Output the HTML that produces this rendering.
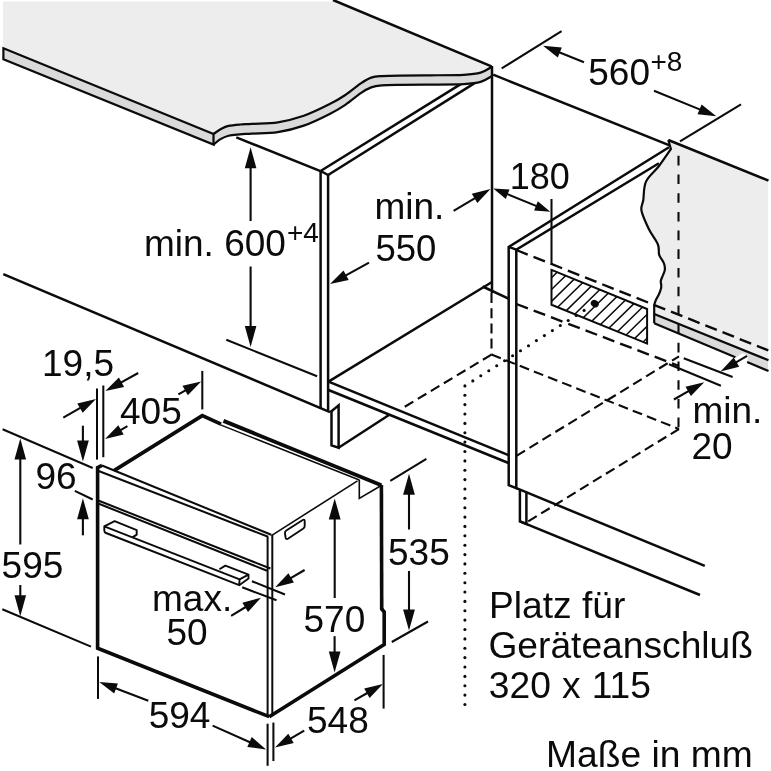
<!DOCTYPE html>
<html lang="de"><head><meta charset="utf-8"><title>Einbaumaße</title>
<style>
html,body{margin:0;padding:0;background:#fff;overflow:hidden;}
svg{display:block;filter:grayscale(1) blur(0.55px);}
text{font-family:"Liberation Sans",sans-serif;fill:#0b0b0b;}
</style></head><body>
<svg width="771" height="771" viewBox="0 0 771 771">
<rect width="771" height="771" fill="#fff"/>
<line x1="320.6" y1="171" x2="470" y2="78.4" stroke="#0b0b0b" stroke-width="2.5"/>
<line x1="328.1" y1="175" x2="485" y2="76.6" stroke="#0b0b0b" stroke-width="2.5"/>
<line x1="236.3" y1="137.3" x2="320.5" y2="171.2" stroke="#0b0b0b" stroke-width="2.5"/>
<path d="M3,1.5 L334,1.5 L491.5,66.3 C489.7,67.9 485.2,71.3 480.6,72.6 C476,73.9 472.1,74.3 463.7,74.8 C455.3,75.2 440.6,75.2 430,75.3 C419.4,75.4 408.1,75.5 400,75.6 C391.9,75.7 386.4,75.8 381.6,76.1 C376.8,76.4 374.7,76.4 371.2,77.6 C367.7,78.8 365.1,80.4 360.8,83.3 C356.5,86.2 350.5,91.5 345.3,95 C340.1,98.5 336.6,100.6 329.7,104.1 C322.8,107.6 312.4,112.8 303.8,115.8 C295.2,118.8 286.4,121 277.8,122.3 C269.2,123.6 258.2,123.4 251.9,123.8 C245.6,124.2 243.9,124.2 240,124.5 C236.1,124.8 231.8,125.1 228.5,125.9 C225.2,126.7 223,128 220.5,129.3 C218,130.7 214.7,133.2 213.5,134 L3,48.3 Z" fill="#ededed"/>
<path d="M3.3,48.3 L213.5,134 L213.5,144.6 L3.3,59.2 Z" fill="#dadada"/>
<path d="M213.5,134 C214.7,133.2 218,130.7 220.5,129.3 C223,128 225.2,126.7 228.5,125.9 C231.8,125.1 236.1,124.8 240,124.5 C243.9,124.2 245.6,124.2 251.9,123.8 C258.2,123.4 269.2,123.6 277.8,122.3 C286.4,121 295.2,118.8 303.8,115.8 C312.4,112.8 322.8,107.6 329.7,104.1 C336.6,100.6 340.1,98.5 345.3,95 C350.5,91.5 356.5,86.2 360.8,83.3 C365.1,80.4 367.7,78.8 371.2,77.6 C374.7,76.4 376.8,76.4 381.6,76.1 C386.4,75.8 391.9,75.7 400,75.6 C408.1,75.5 419.4,75.4 430,75.3 C440.6,75.2 455.3,75.2 463.7,74.8 C472.1,74.3 476,73.9 480.6,72.6 C485.2,71.3 489.7,67.9 491.5,67 L491.5,76.8 C489.7,77.2 485.2,80.6 480.6,81.9 C476,83.2 472.1,83.6 463.7,84.1 C455.3,84.5 440.6,84.5 430,84.6 C419.4,84.7 408.1,84.8 400,84.9 C391.9,85 386.4,85 381.6,85.4 C376.8,85.8 374.7,86.1 371.2,87.4 C367.7,88.7 365.1,90.2 360.8,93.1 C356.5,96 350.5,101.3 345.3,104.8 C340.1,108.3 336.6,110.4 329.7,113.9 C322.8,117.4 312.4,122.6 303.8,125.6 C295.2,128.6 286.4,130.8 277.8,132.1 C269.2,133.4 258.2,133.2 251.9,133.6 C245.6,134 243.9,134 240,134.3 C236.1,134.7 231.8,134.9 228.5,135.7 C225.2,136.5 223,137.6 220.5,139.1 C218,140.6 214.7,143.7 213.5,144.6 Z" fill="#dadada"/>
<path d="M3.4,48.3 L213.5,134 L213.5,144.6 L3.4,59.2 Z" fill="none" stroke="#0b0b0b" stroke-width="2.2" stroke-linejoin="miter"/>
<path d="M213.5,134 C214.7,133.2 218,130.7 220.5,129.3 C223,128 225.2,126.7 228.5,125.9 C231.8,125.1 236.1,124.8 240,124.5 C243.9,124.2 245.6,124.2 251.9,123.8 C258.2,123.4 269.2,123.6 277.8,122.3 C286.4,121 295.2,118.8 303.8,115.8 C312.4,112.8 322.8,107.6 329.7,104.1 C336.6,100.6 340.1,98.5 345.3,95 C350.5,91.5 356.5,86.2 360.8,83.3 C365.1,80.4 367.7,78.8 371.2,77.6 C374.7,76.4 376.8,76.4 381.6,76.1 C386.4,75.8 391.9,75.7 400,75.6 C408.1,75.5 419.4,75.4 430,75.3 C440.6,75.2 455.3,75.2 463.7,74.8 C472.1,74.3 476,73.9 480.6,72.6 C485.2,71.3 489.7,67.9 491.5,67" fill="none" stroke="#0b0b0b" stroke-width="2.2" stroke-linejoin="miter"/>
<path d="M213.5,144.6 C214.7,143.7 218,140.6 220.5,139.1 C223,137.6 225.2,136.5 228.5,135.7 C231.8,134.9 236.1,134.7 240,134.3 C243.9,134 245.6,134 251.9,133.6 C258.2,133.2 269.2,133.4 277.8,132.1 C286.4,130.8 295.2,128.6 303.8,125.6 C312.4,122.6 322.8,117.4 329.7,113.9 C336.6,110.4 340.1,108.3 345.3,104.8 C350.5,101.3 356.5,96 360.8,93.1 C365.1,90.2 367.7,88.7 371.2,87.4 C374.7,86.1 376.8,85.8 381.6,85.4 C386.4,85 391.9,85 400,84.9 C408.1,84.8 419.4,84.7 430,84.6 C440.6,84.5 455.3,84.5 463.7,84.1 C472.1,83.6 476,83.2 480.6,81.9 C485.2,80.6 489.7,77.2 491.5,76.3" fill="none" stroke="#0b0b0b" stroke-width="2.2" stroke-linejoin="miter"/>
<line x1="333" y1="0" x2="491.5" y2="66.3" stroke="#0b0b0b" stroke-width="2.5"/>
<line x1="492" y1="66" x2="492" y2="293" stroke="#0b0b0b" stroke-width="2.5"/>
<line x1="493.2" y1="74.7" x2="669.6" y2="145.3" stroke="#0b0b0b" stroke-width="2.5"/>
<line x1="3.3" y1="274.2" x2="330" y2="412.1" stroke="#0b0b0b" stroke-width="2.5"/>
<line x1="320.6" y1="171" x2="320.6" y2="408.8" stroke="#0b0b0b" stroke-width="2.5"/>
<line x1="328.1" y1="175" x2="328.1" y2="410.6" stroke="#0b0b0b" stroke-width="2.5"/>
<line x1="320.6" y1="171" x2="328.1" y2="175" stroke="#0b0b0b" stroke-width="2.5"/>
<path d="M330,412 L331.5,411.2 L331.5,445.4 L338.6,447.7 L338.6,405.3 L331.5,411.2" fill="none" stroke="#0b0b0b" stroke-width="2.5" stroke-linejoin="miter"/>
<line x1="338.5" y1="447.7" x2="389" y2="415" stroke="#0b0b0b" stroke-width="2.5"/>
<line x1="328.5" y1="381.6" x2="492" y2="282" stroke="#0b0b0b" stroke-width="2.5"/>
<line x1="482.6" y1="286.5" x2="508.5" y2="298.7" stroke="#0b0b0b" stroke-width="2.5"/>
<line x1="328.5" y1="381.6" x2="508.5" y2="455.2" stroke="#0b0b0b" stroke-width="2.5"/>
<line x1="328.5" y1="390" x2="508.5" y2="463" stroke="#0b0b0b" stroke-width="2.5"/>
<path d="M658.9,163.3 L516.3,249.6 L516.3,488.2 L508.7,485.1 L508.7,246.9 L669,147.3" fill="none" stroke="#0b0b0b" stroke-width="2.5" stroke-linejoin="miter"/>
<line x1="508.7" y1="246.9" x2="516.3" y2="249.6" stroke="#0b0b0b" stroke-width="2.5"/>
<path d="M519.9,489.5 L519.9,521.4 L526.4,524 L526.4,492" fill="none" stroke="#0b0b0b" stroke-width="2.5" stroke-linejoin="miter"/>
<line x1="516.4" y1="488.2" x2="704.8" y2="565.8" stroke="#0b0b0b" stroke-width="2.5"/>
<line x1="519.9" y1="521.4" x2="700" y2="595" stroke="#0b0b0b" stroke-width="2.5"/>
<path d="M668.3,140 L768,180.4 L768,360 L654.2,314 L654.2,305 C654.5,304.2 655,301.9 655.8,300.2 C656.5,298.5 657.8,296.7 658.7,294.8 C659.6,292.9 660.6,290.2 661,288.6 C661.4,287 661.2,286.3 661.2,285 C661.2,283.7 660.6,282.3 660.8,281 C661,279.7 661.5,278.8 662.2,277 C662.9,275.2 664.5,272.4 664.8,270.2 C665.1,267.9 664.9,266.1 664,263.5 C663.1,260.9 660.2,258 659.2,254.8 C658.2,251.6 659.6,248.8 657.9,244.5 C656.2,240.2 651.5,234.6 648.8,229 C646.1,223.4 642.4,215.6 641.5,210.8 C640.6,206 642.5,204.9 643.3,200 C644,195.1 643.4,187.3 646,181.6 C648.6,175.9 654.9,171.4 659,166 C663.1,160.6 668.9,151.8 670.9,149 Z" fill="#ededed"/>
<path d="M654.2,314 L768,360 L768,370.9 L654.2,323.3 Z" fill="#dadada"/>
<path d="M735.4,358.2 L742,353.2 L747.6,355.5 L747.6,363.3 Z" fill="#fff"/>
<path d="M668.3,140 L670.9,149 C668.9,151.8 663.1,160.6 659,166 C654.9,171.4 648.6,175.9 646,181.6 C643.4,187.3 644,195.1 643.3,200 C642.5,204.9 640.6,206 641.5,210.8 C642.4,215.6 646.1,223.4 648.8,229 C651.5,234.6 656.2,240.2 657.9,244.5 C659.6,248.8 658.2,251.6 659.2,254.8 C660.2,258 663.1,260.9 664,263.5 C664.9,266.1 665.1,267.9 664.8,270.2 C664.5,272.4 662.9,275.2 662.2,277 C661.5,278.8 661,279.7 660.8,281 C660.6,282.3 661.2,283.7 661.2,285 C661.2,286.3 661.4,287 661,288.6 C660.6,290.2 659.6,292.9 658.7,294.8 C657.8,296.7 656.5,298.5 655.8,300.2 C655,301.9 654.5,304.2 654.2,305 L654.2,323.3" fill="none" stroke="#0b0b0b" stroke-width="2.2" stroke-linejoin="miter"/>
<line x1="668.3" y1="140" x2="768.5" y2="180.6" stroke="#0b0b0b" stroke-width="2.5"/>
<line x1="654.2" y1="323.3" x2="735.4" y2="357.2" stroke="#0b0b0b" stroke-width="2.2"/>
<line x1="747.1" y1="362.1" x2="768.5" y2="371.1" stroke="#0b0b0b" stroke-width="2.2"/>
<line x1="654.2" y1="314" x2="768.5" y2="360.2" stroke="#0b0b0b" stroke-width="2.2"/>
<clipPath id="hc"><path d="M551.5,269.9 L647.1,309 L647.1,343.6 L551.5,304.8 Z"/></clipPath>
<path d="M336.1,370.2 L536.1,174.2 M348.2,370.2 L548.2,174.2 M360.3,370.2 L560.3,174.2 M372.4,370.2 L572.4,174.2 M384.5,370.2 L584.5,174.2 M396.6,370.2 L596.6,174.2 M408.7,370.2 L608.7,174.2 M420.8,370.2 L620.8,174.2 M432.9,370.2 L632.9,174.2 M445,370.2 L645,174.2 M457.1,370.2 L657.1,174.2 M469.2,370.2 L669.2,174.2 M481.3,370.2 L681.3,174.2 M493.4,370.2 L693.4,174.2 M505.5,370.2 L705.5,174.2 M517.6,370.2 L717.6,174.2 M529.7,370.2 L729.7,174.2 M541.8,370.2 L741.8,174.2 M553.9,370.2 L753.9,174.2 M566,370.2 L766,174.2 M578.1,370.2 L778.1,174.2 M590.2,370.2 L790.2,174.2 M602.3,370.2 L802.3,174.2 M614.4,370.2 L814.4,174.2 M626.5,370.2 L826.5,174.2 M638.6,370.2 L838.6,174.2 M650.7,370.2 L850.7,174.2 M662.8,370.2 L862.8,174.2" stroke="#0b0b0b" stroke-width="1.5" fill="none" clip-path="url(#hc)"/>
<path d="M551.5,269.9 L647.1,309 L647.1,343.6 L551.5,304.8 Z" fill="none" stroke="#0b0b0b" stroke-width="2" stroke-linejoin="miter"/>
<line x1="551.5" y1="199" x2="551.5" y2="265" stroke="#0b0b0b" stroke-width="2.05"/>
<ellipse cx="594.8" cy="303.6" rx="4.2" ry="3.5" transform="rotate(35 594.8 303.6)" fill="#0b0b0b"/>
<g fill="#0b0b0b"><circle cx="464.9" cy="385.9" r="1.55"/><circle cx="464.9" cy="395.3" r="1.55"/><circle cx="464.9" cy="404.6" r="1.55"/><circle cx="464.9" cy="414" r="1.55"/><circle cx="464.9" cy="423.4" r="1.55"/><circle cx="464.9" cy="432.8" r="1.55"/><circle cx="464.9" cy="442.1" r="1.55"/><circle cx="464.9" cy="451.5" r="1.55"/><circle cx="464.9" cy="460.9" r="1.55"/><circle cx="464.9" cy="470.2" r="1.55"/><circle cx="464.9" cy="479.6" r="1.55"/><circle cx="464.9" cy="489" r="1.55"/><circle cx="464.9" cy="498.3" r="1.55"/><circle cx="464.9" cy="507.7" r="1.55"/><circle cx="464.9" cy="517.1" r="1.55"/><circle cx="464.9" cy="526.4" r="1.55"/><circle cx="464.9" cy="535.8" r="1.55"/><circle cx="464.9" cy="545.2" r="1.55"/><circle cx="464.9" cy="554.6" r="1.55"/><circle cx="464.9" cy="563.9" r="1.55"/><circle cx="464.9" cy="573.3" r="1.55"/><circle cx="464.9" cy="582.7" r="1.55"/><circle cx="464.9" cy="592" r="1.55"/><circle cx="464.9" cy="601.4" r="1.55"/><circle cx="464.9" cy="610.8" r="1.55"/><circle cx="464.9" cy="620.1" r="1.55"/><circle cx="464.9" cy="629.5" r="1.55"/><circle cx="464.9" cy="638.9" r="1.55"/><circle cx="464.9" cy="648.3" r="1.55"/><circle cx="464.9" cy="657.6" r="1.55"/><circle cx="464.9" cy="667" r="1.55"/><circle cx="464.9" cy="676.4" r="1.55"/><circle cx="464.9" cy="685.7" r="1.55"/><circle cx="464.9" cy="695.1" r="1.55"/><circle cx="464.9" cy="704.5" r="1.55"/><circle cx="472.8" cy="380.9" r="1.55"/><circle cx="480.8" cy="375.8" r="1.55"/><circle cx="488.8" cy="370.8" r="1.55"/><circle cx="496.7" cy="365.8" r="1.55"/><circle cx="504.6" cy="360.8" r="1.55"/><circle cx="512.6" cy="355.7" r="1.55"/><circle cx="520.5" cy="350.7" r="1.55"/><circle cx="528.5" cy="345.7" r="1.55"/><circle cx="536.4" cy="340.6" r="1.55"/><circle cx="544.4" cy="335.6" r="1.55"/><circle cx="552.4" cy="330.6" r="1.55"/><circle cx="560.3" cy="325.5" r="1.55"/><circle cx="568.2" cy="320.5" r="1.55"/><circle cx="576.2" cy="315.5" r="1.55"/><circle cx="584.1" cy="310.4" r="1.55"/></g>
<line x1="678.5" y1="155.8" x2="678.5" y2="429" stroke="#0b0b0b" stroke-width="2.1" stroke-dasharray="9.6 9.1"/>
<line x1="491.5" y1="293" x2="491.5" y2="354.6" stroke="#0b0b0b" stroke-width="2.1" stroke-dasharray="10 5.2"/>
<line x1="516.3" y1="250" x2="771" y2="351.5" stroke="#0b0b0b" stroke-width="2.4" stroke-dasharray="12.3 6.2"/>
<line x1="516.4" y1="304" x2="679" y2="366" stroke="#0b0b0b" stroke-width="2.4" stroke-dasharray="12.3 6.2"/>
<line x1="491.5" y1="354.6" x2="679" y2="429" stroke="#0b0b0b" stroke-width="2.1" stroke-dasharray="10 5.2"/>
<line x1="491.5" y1="354.6" x2="403" y2="407.8" stroke="#0b0b0b" stroke-width="2.1" stroke-dasharray="10 5.2"/>
<line x1="516.5" y1="455.8" x2="679" y2="356.3" stroke="#0b0b0b" stroke-width="2.1" stroke-dasharray="10 5.2"/>
<line x1="528.2" y1="521.4" x2="679" y2="429" stroke="#0b0b0b" stroke-width="2.1" stroke-dasharray="10 5.2"/>
<line x1="683.7" y1="358.3" x2="732.6" y2="377" stroke="#0b0b0b" stroke-width="2.05"/>
<line x1="669" y1="364.2" x2="720.9" y2="385.8" stroke="#0b0b0b" stroke-width="2.05"/>
<line x1="747.1" y1="355.8" x2="732.6" y2="364.4" stroke="#0b0b0b" stroke-width="2.1"/>
<polygon points="720.5,371.5 733.7,357.5 739.2,366.8" fill="#0b0b0b"/>
<line x1="673.9" y1="399.5" x2="692" y2="389.1" stroke="#0b0b0b" stroke-width="2.1"/>
<polygon points="704.2,382.2 690.9,396.0 685.5,386.7" fill="#0b0b0b"/>
<line x1="501.7" y1="68.4" x2="561.6" y2="31.1" stroke="#0b0b0b" stroke-width="2.05"/>
<line x1="680" y1="141.4" x2="741" y2="104.3" stroke="#0b0b0b" stroke-width="2.05"/>
<line x1="584" y1="62.3" x2="556" y2="51" stroke="#0b0b0b" stroke-width="2.1"/>
<polygon points="543.0,45.8 561.8,47.6 557.8,57.5" fill="#0b0b0b"/>
<line x1="654" y1="90.8" x2="703.3" y2="110.9" stroke="#0b0b0b" stroke-width="2.1"/>
<polygon points="716.3,116.2 697.5,114.3 701.6,104.4" fill="#0b0b0b"/>
<line x1="453.6" y1="210.8" x2="478.4" y2="196.1" stroke="#0b0b0b" stroke-width="2.1"/>
<polygon points="490.5,189.0 477.3,203.1 471.8,193.7" fill="#0b0b0b"/>
<line x1="500" y1="191.1" x2="544" y2="209.1" stroke="#0b0b0b" stroke-width="2"/>
<polygon points="493.3,188.4 509.5,189.6 505.8,198.9" fill="#0b0b0b"/>
<polygon points="550.3,211.7 534.1,210.5 537.8,201.2" fill="#0b0b0b"/>
<line x1="369" y1="262.6" x2="342.3" y2="277.3" stroke="#0b0b0b" stroke-width="2.1"/>
<polygon points="330.0,284.0 343.5,270.4 348.7,279.9" fill="#0b0b0b"/>
<line x1="250.6" y1="221" x2="250.6" y2="161.3" stroke="#0b0b0b" stroke-width="2.1"/>
<polygon points="250.6,147.3 256.4,168.3 244.8,168.3" fill="#0b0b0b"/>
<line x1="250.6" y1="266.5" x2="250.6" y2="333" stroke="#0b0b0b" stroke-width="2.1"/>
<polygon points="250.6,347.0 244.8,326.0 256.4,326.0" fill="#0b0b0b"/>
<line x1="226.3" y1="339.8" x2="317.1" y2="376.2" stroke="#0b0b0b" stroke-width="2.05"/>
<path d="M269.2,716.7 L97.6,648.2 L97.6,467.6 L102,465.4" fill="none" stroke="#0b0b0b" stroke-width="3.6" stroke-linejoin="miter"/>
<line x1="98" y1="470.7" x2="268.1" y2="536.8" stroke="#0b0b0b" stroke-width="2"/>
<line x1="102" y1="465.5" x2="271.2" y2="534.8" stroke="#0b0b0b" stroke-width="2"/>
<line x1="267.6" y1="536.5" x2="267.6" y2="716" stroke="#0b0b0b" stroke-width="2"/>
<line x1="272.3" y1="535" x2="272.3" y2="715" stroke="#0b0b0b" stroke-width="2"/>
<line x1="98.9" y1="500.8" x2="270.4" y2="568.5" stroke="#0b0b0b" stroke-width="2"/>
<line x1="98.9" y1="503.8" x2="267" y2="570.7" stroke="#0b0b0b" stroke-width="2"/>
<path d="M114,470.6 L202.3,415.6 L221,424.2" fill="none" stroke="#0b0b0b" stroke-width="3.6" stroke-linejoin="miter"/>
<line x1="223.5" y1="420.9" x2="381.4" y2="485.2" stroke="#0b0b0b" stroke-width="3.9"/>
<line x1="220.5" y1="424.9" x2="359.3" y2="480" stroke="#0b0b0b" stroke-width="1.5"/>
<line x1="381.4" y1="484.9" x2="381.7" y2="610" stroke="#0b0b0b" stroke-width="3.6"/>
<path d="M381.7,609 L384.2,612 L384.2,644.4 L269.2,716.7" fill="none" stroke="#0b0b0b" stroke-width="3.6" stroke-linejoin="miter"/>
<line x1="271.4" y1="535.7" x2="357.5" y2="480.8" stroke="#0b0b0b" stroke-width="1.6"/>
<path d="M359.3,479.7 L359.3,498.4 L380.4,486" fill="none" stroke="#0b0b0b" stroke-width="1.6" stroke-linejoin="miter"/>
<path d="M285,533.5 Q284.6,531.6 286.3,530.5 L302.7,520 Q304.7,519 304.7,521.2 L304.7,526 Q304.7,527.8 303,528.8 L288.3,538.5 Q286,539.8 285.6,537.5 Z" fill="none" stroke="#0b0b0b" stroke-width="1.9" stroke-linejoin="miter"/>
<path d="M104.3,526.3 L114.6,521.1 L136.7,530.2 L136.7,534.6 L132.5,537.4" fill="none" stroke="#0b0b0b" stroke-width="1.9" stroke-linejoin="round"/>
<path d="M219.4,569.2 L225.4,565.6 L248.5,574.6 L248.5,578.6 L239.2,585.2" fill="none" stroke="#0b0b0b" stroke-width="1.9" stroke-linejoin="round"/>
<path d="M239.6,579.3 L104.3,526.3 L104.3,530.5 Q104.3,532.3 106,533 L239.2,585.2 L239.6,579.3 L248.5,574.6" fill="none" stroke="#0b0b0b" stroke-width="1.9" stroke-linejoin="round"/>
<line x1="97" y1="388.5" x2="97" y2="459.6" stroke="#0b0b0b" stroke-width="2.05"/>
<line x1="103.3" y1="385.5" x2="103.3" y2="457.2" stroke="#0b0b0b" stroke-width="2.05"/>
<line x1="138.2" y1="373" x2="117.7" y2="384.3" stroke="#0b0b0b" stroke-width="2.1"/>
<polygon points="105.4,391.0 118.9,377.4 124.1,386.9" fill="#0b0b0b"/>
<line x1="63.3" y1="417.6" x2="83.8" y2="405.8" stroke="#0b0b0b" stroke-width="2.1"/>
<polygon points="96.0,398.9 82.7,412.7 77.3,403.4" fill="#0b0b0b"/>
<line x1="127.4" y1="426.2" x2="117.2" y2="432.1" stroke="#0b0b0b" stroke-width="2.1"/>
<polygon points="105.0,439.0 118.3,425.2 123.7,434.5" fill="#0b0b0b"/>
<line x1="178.4" y1="394.3" x2="189" y2="388.3" stroke="#0b0b0b" stroke-width="2.1"/>
<polygon points="201.2,381.4 187.8,395.2 182.5,385.8" fill="#0b0b0b"/>
<line x1="202.3" y1="370.9" x2="202.3" y2="409.4" stroke="#0b0b0b" stroke-width="2.05"/>
<line x1="82.9" y1="425.7" x2="82.9" y2="447.5" stroke="#0b0b0b" stroke-width="2.1"/>
<polygon points="82.9,461.5 77.1,440.5 88.8,440.5" fill="#0b0b0b"/>
<line x1="82.9" y1="535.3" x2="82.9" y2="512.2" stroke="#0b0b0b" stroke-width="2.1"/>
<polygon points="82.9,498.2 88.8,519.2 77.1,519.2" fill="#0b0b0b"/>
<line x1="74.8" y1="490.9" x2="92.7" y2="499.5" stroke="#0b0b0b" stroke-width="2.05"/>
<line x1="2.6" y1="429.3" x2="92.7" y2="468" stroke="#0b0b0b" stroke-width="2.05"/>
<line x1="2.3" y1="609.2" x2="91" y2="646.6" stroke="#0b0b0b" stroke-width="2.05"/>
<line x1="20.3" y1="544.5" x2="20.3" y2="452.4" stroke="#0b0b0b" stroke-width="2.1"/>
<polygon points="20.3,438.4 26.1,459.4 14.5,459.4" fill="#0b0b0b"/>
<line x1="20.3" y1="585" x2="20.3" y2="602.2" stroke="#0b0b0b" stroke-width="2.1"/>
<polygon points="20.3,616.2 14.5,595.2 26.1,595.2" fill="#0b0b0b"/>
<line x1="98" y1="656.4" x2="98" y2="698.9" stroke="#0b0b0b" stroke-width="2.05"/>
<line x1="148.3" y1="700.7" x2="112.3" y2="687" stroke="#0b0b0b" stroke-width="2.1"/>
<polygon points="99.2,682.0 117.9,683.4 114.2,693.4" fill="#0b0b0b"/>
<line x1="212.6" y1="725.6" x2="253.3" y2="743.7" stroke="#0b0b0b" stroke-width="2.1"/>
<polygon points="266.1,749.4 247.3,746.9 251.7,737.1" fill="#0b0b0b"/>
<line x1="267.6" y1="723.7" x2="267.6" y2="765.8" stroke="#0b0b0b" stroke-width="2.05"/>
<line x1="273.4" y1="722.6" x2="273.4" y2="761" stroke="#0b0b0b" stroke-width="2.05"/>
<line x1="304.2" y1="730.7" x2="287.1" y2="740.6" stroke="#0b0b0b" stroke-width="2.1"/>
<polygon points="275.0,747.6 288.3,733.7 293.7,743.0" fill="#0b0b0b"/>
<line x1="354.4" y1="700.4" x2="370.8" y2="691" stroke="#0b0b0b" stroke-width="2.1"/>
<polygon points="382.9,684.0 369.6,697.9 364.2,688.5" fill="#0b0b0b"/>
<line x1="383.6" y1="654.9" x2="383.6" y2="708.6" stroke="#0b0b0b" stroke-width="2.05"/>
<line x1="334.7" y1="598" x2="334.7" y2="512.4" stroke="#0b0b0b" stroke-width="2.1"/>
<polygon points="334.7,498.4 340.6,519.4 328.8,519.4" fill="#0b0b0b"/>
<line x1="334.6" y1="636.2" x2="334.6" y2="658.4" stroke="#0b0b0b" stroke-width="2.1"/>
<polygon points="334.6,672.4 328.8,651.4 340.5,651.4" fill="#0b0b0b"/>
<line x1="390.3" y1="480.8" x2="426.4" y2="458.9" stroke="#0b0b0b" stroke-width="2.05"/>
<line x1="391.8" y1="642" x2="428" y2="621.5" stroke="#0b0b0b" stroke-width="2.05"/>
<line x1="409" y1="529.5" x2="409" y2="487.8" stroke="#0b0b0b" stroke-width="2.1"/>
<polygon points="409.0,473.8 414.9,494.8 403.1,494.8" fill="#0b0b0b"/>
<line x1="409" y1="571" x2="409" y2="616.4" stroke="#0b0b0b" stroke-width="2.1"/>
<polygon points="409.0,630.4 403.1,609.4 414.9,609.4" fill="#0b0b0b"/>
<line x1="251.9" y1="581.2" x2="285" y2="594.5" stroke="#0b0b0b" stroke-width="2.05"/>
<line x1="242.2" y1="587.3" x2="276.5" y2="600.3" stroke="#0b0b0b" stroke-width="2.05"/>
<line x1="231.1" y1="615.9" x2="249" y2="605" stroke="#0b0b0b" stroke-width="2.1"/>
<polygon points="261.0,597.7 248.0,612.0 242.4,602.7" fill="#0b0b0b"/>
<line x1="304.6" y1="570" x2="287.3" y2="580.2" stroke="#0b0b0b" stroke-width="2.1"/>
<polygon points="275.2,587.3 288.4,573.3 293.9,582.6" fill="#0b0b0b"/>
<text x="588.3" y="85" font-size="37">560</text>
<text x="650.5" y="70.5" font-size="28">+8</text>
<text x="509.7" y="188.5" font-size="36">180</text>
<text x="144" y="256" font-size="37">min. 600</text>
<text x="287" y="242" font-size="28">+4</text>
<text x="374.5" y="219.3" font-size="37">min.</text>
<text x="375.5" y="261" font-size="36.5">550</text>
<text x="42" y="375.8" font-size="37">19,5</text>
<text x="120" y="423.6" font-size="37">405</text>
<text x="35.5" y="489.3" font-size="37">96</text>
<text x="1.6" y="577.6" font-size="37">595</text>
<text x="152" y="611" font-size="37">max.</text>
<text x="166.5" y="645" font-size="37">50</text>
<text x="303.5" y="631.8" font-size="37">570</text>
<text x="388" y="565" font-size="37">535</text>
<text x="148.7" y="727.6" font-size="37">594</text>
<text x="307" y="733" font-size="37">548</text>
<text x="692.5" y="422.8" font-size="37">min.</text>
<text x="691.5" y="459.2" font-size="37">20</text>
<text x="489" y="617.7" font-size="37.2">Platz für</text>
<text x="488.4" y="658" font-size="37.2">Geräteanschluß</text>
<text x="488.8" y="697.8" font-size="37.2" word-spacing="0.8">320 x 115</text>
<text x="546" y="767" font-size="37.2">Maße in mm</text>
</svg>
</body></html>
